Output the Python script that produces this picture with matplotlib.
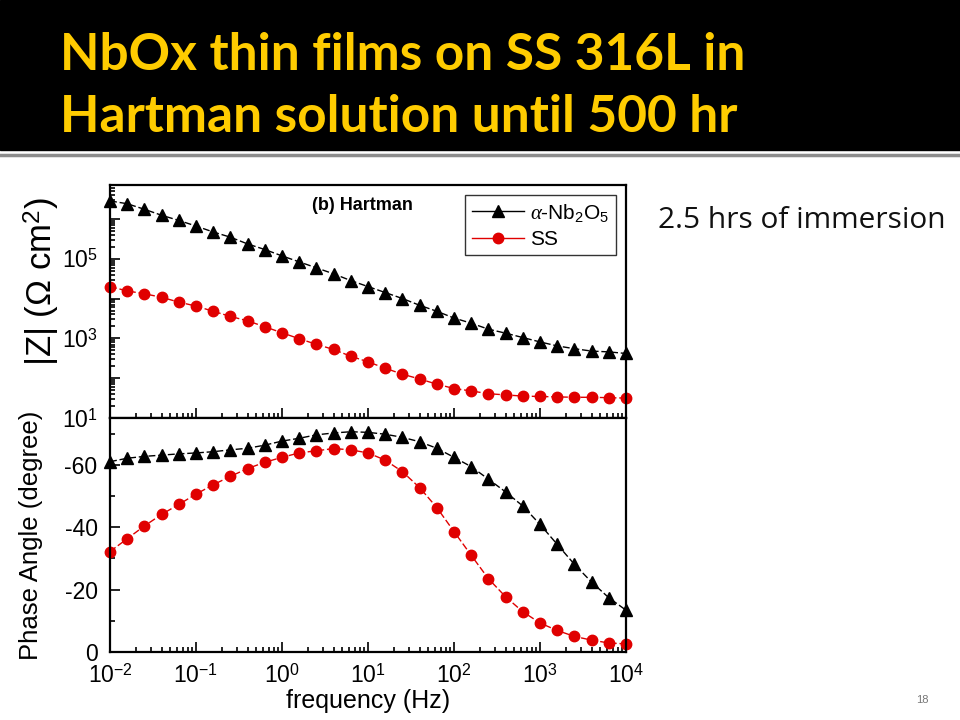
import numpy as np
import matplotlib
matplotlib.use('Agg')
import matplotlib.pyplot as plt
from matplotlib.ticker import LogLocator, FuncFormatter, NullFormatter, MultipleLocator

plt.rcParams['font.family'] = ['Liberation Sans', 'DejaVu Sans']
plt.rcParams['mathtext.fontset'] = 'custom'
plt.rcParams['mathtext.rm'] = 'Liberation Sans'
plt.rcParams['mathtext.it'] = 'Liberation Serif:italic'

# frequency: 5 points per decade, 1e-2 .. 1e4
log_freq = [-2.0, -1.8, -1.6, -1.4, -1.2, -1.0, -0.8, -0.6, -0.4, -0.2,
            0.0, 0.2, 0.4, 0.6, 0.8, 1.0, 1.2, 1.4, 1.6, 1.8,
            2.0, 2.2, 2.4, 2.6, 2.8, 3.0, 3.2, 3.4, 3.6, 3.8, 4.0]

# log10 |Z|
logz_nb = [6.45, 6.38, 6.24, 6.09, 5.96, 5.82, 5.67, 5.54, 5.37, 5.23,
           5.07, 4.92, 4.77, 4.62, 4.45, 4.30, 4.15, 4.00, 3.83, 3.68,
           3.51, 3.38, 3.23, 3.13, 3.02, 2.91, 2.81, 2.74, 2.68, 2.66, 2.62]
logz_ss = [4.30, 4.19, 4.12, 4.03, 3.91, 3.81, 3.68, 3.55, 3.44, 3.29,
           3.14, 2.99, 2.85, 2.72, 2.55, 2.41, 2.25, 2.10, 1.98, 1.85,
           1.74, 1.68, 1.61, 1.58, 1.55, 1.54, 1.53, 1.52, 1.52, 1.51, 1.50]

# phase angle (degree)
phase_nb = [-61.0, -62.1, -62.7, -63.1, -63.5, -63.8, -64.2, -64.8, -65.3, -66.3,
            -67.6, -68.5, -69.6, -70.2, -70.6, -70.4, -69.8, -68.8, -67.4, -65.3,
            -62.4, -59.4, -55.4, -51.3, -46.8, -40.9, -34.5, -28.1, -22.4, -17.4, -13.4]
phase_ss = [-32.2, -36.3, -40.4, -44.1, -47.3, -50.6, -53.6, -56.3, -58.8, -60.8,
            -62.4, -63.8, -64.5, -65.2, -64.8, -63.8, -61.5, -57.8, -52.7, -46.3,
            -38.6, -31.0, -23.5, -17.7, -12.9, -9.3, -6.9, -5.0, -3.8, -2.9, -2.6]

freq = 10 ** np.array(log_freq)
z_nb = 10 ** np.array(logz_nb)
z_ss = 10 ** np.array(logz_ss)

fig = plt.figure(figsize=(9.6, 7.2), dpi=100)
fig.patch.set_facecolor('white')

# slide header
fig.patches.append(plt.Rectangle((0, 1 - 150/720), 1, 150/720, transform=fig.transFigure,
                                 color='black', zorder=0))
fig.lines.append(plt.Line2D([0, 1], [1 - 155/720, 1 - 155/720], transform=fig.transFigure,
                            color='#8c8c8c', lw=2.5))
title_font = ['Lato', 'DejaVu Sans']
fig.text(60/960, 1 - 70/720, 'NbOx thin films on SS 316L in', color='#ffcc00',
         fontsize=37, fontweight='bold', family=title_font, va='baseline')
fig.text(60/960, 1 - 132/720, 'Hartman solution until 500 hr', color='#ffcc00',
         fontsize=37, fontweight='bold', family=title_font, va='baseline')

fig.text(658/960, 1 - 220/720, '2.5 hrs of immersion', fontsize=21.5,
         family=['Open Sans', 'DejaVu Sans'], va='center', color='#111111')
fig.text(922/960, 1 - 700/720, '18', fontsize=8, color='#777777', ha='center', va='center')

ax1 = fig.add_axes([110/960, 1 - 418/720, 516/960, 233/720])
ax2 = fig.add_axes([110/960, 1 - 652/720, 516/960, 234/720], sharex=ax1)

ls = (0, (5, 2))
ax1.plot(freq, z_nb, color='black', ls=ls, lw=1, marker='^', ms=8.5,
         label=r'$\mathit{\alpha}$-Nb$_2$O$_5$', clip_on=False)
ax1.plot(freq, z_ss, color='#e00000', ls=ls, lw=1, marker='o', ms=7.5,
         label='SS', clip_on=False)
ax2.plot(freq, phase_nb, color='black', ls=ls, lw=1, marker='^', ms=8.5, clip_on=False)
ax2.plot(freq, phase_ss, color='#e00000', ls=ls, lw=1, marker='o', ms=7.5, clip_on=False)

ax1.set_xscale('log')
ax1.set_yscale('log')
ax1.set_xlim(1e-2, 1e4)
ax1.set_ylim(10, 10 ** 6.85)
ax2.set_ylim(0, -75)

ax1.yaxis.set_major_locator(LogLocator(base=10, numticks=20))
ax1.yaxis.set_minor_locator(LogLocator(base=10, subs=np.arange(2, 10), numticks=20))
ax1.yaxis.set_major_formatter(FuncFormatter(
    lambda v, p: r'$10^{%d}$' % round(np.log10(v)) if round(np.log10(v)) % 2 == 1 else ''))
ax1.yaxis.set_minor_formatter(NullFormatter())

ax2.xaxis.set_major_locator(LogLocator(base=10, numticks=20))
ax2.xaxis.set_minor_locator(LogLocator(base=10, subs=np.arange(2, 10), numticks=20))
ax2.xaxis.set_major_formatter(FuncFormatter(lambda v, p: r'$10^{%d}$' % round(np.log10(v))))
ax2.yaxis.set_major_locator(MultipleLocator(20))
ax2.yaxis.set_minor_locator(MultipleLocator(10))
ax2.yaxis.set_major_formatter(FuncFormatter(lambda v, p: '%d' % v))

for ax in (ax1, ax2):
    for s in ax.spines.values():
        s.set_linewidth(1.6)
    ax.tick_params(which='both', direction='in', top=False, right=False, labelsize=16.5, width=1.2)
    ax.tick_params(which='major', length=7)
    ax.tick_params(which='minor', length=3.5)
plt.setp(ax1.get_xticklabels(), visible=False)
ax1.tick_params(axis='y', pad=9)
ax2.tick_params(axis='y', pad=9)
ax2.tick_params(axis='x', pad=9)

ax1.text(0.49, 0.91, '(b) Hartman', transform=ax1.transAxes, ha='center', va='center',
         fontsize=13, fontweight='bold')
leg = ax1.legend(loc='upper right', fontsize=15, frameon=True, fancybox=False,
                 edgecolor='black', handlelength=2.5, borderaxespad=0.5,
                 labelspacing=0.3, handletextpad=0.3, borderpad=0.3)
leg.get_frame().set_linewidth(1.0)
for h in leg.legend_handles:
    h.set_linestyle('-')

fig.text(42/960, 1 - 282/720, '|Z| (Ω cm$^2$)', rotation=90, fontsize=25,
         ha='center', va='center')
ax2.set_ylabel('Phase Angle (degree)', fontsize=18.5)
ax2.set_xlabel('frequency (Hz)', fontsize=18)
ax2.yaxis.set_label_coords(-0.13, 0.5)
ax2.xaxis.set_label_coords(0.5, -0.16)

fig.savefig('out.png', dpi=100)
